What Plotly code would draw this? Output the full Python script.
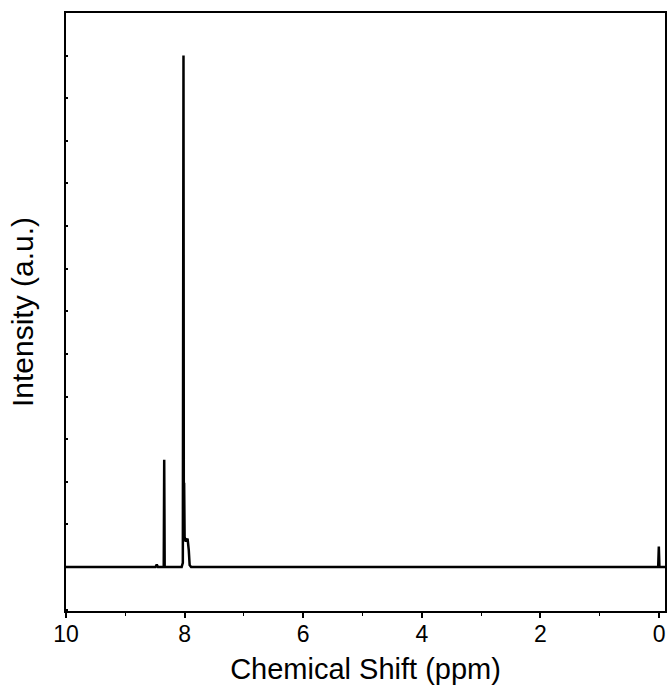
import plotly.graph_objects as go

# Chemical shift (ppm) and intensity (a.u., in y-tick units)
shift_ppm = [10.0, 8.49, 8.47, 8.45, 8.352, 8.344, 8.336, 8.05, 8.03, 8.019, 8.013,
             8.008, 8.0, 7.975, 7.95, 7.93, 7.915, 7.89, 0.015, 0.004, -0.006, -0.1]
intensity = [0.0, 0.0, 0.06, 0.0, 0.0, 2.52, 0.0, 0.0, 0.1, 12.0, 0.6,
             1.98, 0.7, 0.6, 0.67, 0.4, 0.05, 0.0, 0.0, 0.48, 0.0, 0.0]

x_tick_vals = [10, 8, 6, 4, 2, 0]
x_tick_text = ["10", "8", "6", "4", "2", "0"]

fig = go.Figure()
fig.add_trace(go.Scatter(x=shift_ppm, y=intensity, mode="lines",
                         line=dict(color="black", width=2.5), showlegend=False))

font_family = "Liberation Sans, Arial, sans-serif"
fig.update_layout(
    width=670, height=692,
    margin=dict(l=66, r=5, t=13, b=81),
    plot_bgcolor="white", paper_bgcolor="white",
    font=dict(family=font_family, color="black"),
    xaxis=dict(
        range=[10, -0.1], tickvals=x_tick_vals, ticktext=x_tick_text,
        ticks="outside", ticklen=5, tickwidth=2, tickcolor="black",
        minor=dict(dtick=1, tick0=0, ticks="outside", ticklen=3, tickwidth=1, tickcolor="black"),
        showline=True, linewidth=2, linecolor="black", mirror=True,
        showgrid=False, zeroline=False, automargin=False,
        tickfont=dict(size=23), ticklabelstandoff=-4,
        title=dict(text="Chemical Shift (ppm)", font=dict(size=29), standoff=13),
    ),
    yaxis=dict(
        range=[-1.03, 13], dtick=1, tick0=0, showticklabels=False,
        ticks="inside", ticklen=2, tickwidth=1.5, tickcolor="black",
        showline=True, linewidth=2, linecolor="black", mirror=True,
        showgrid=False, zeroline=False, automargin=False,
        title=dict(text="Intensity (a.u.)", font=dict(size=30), standoff=22),
    ),
)

fig.write_html("out.html", config={"displayModeBar": False},
               post_script="document.body.style.margin='0';document.body.style.padding='0';")
